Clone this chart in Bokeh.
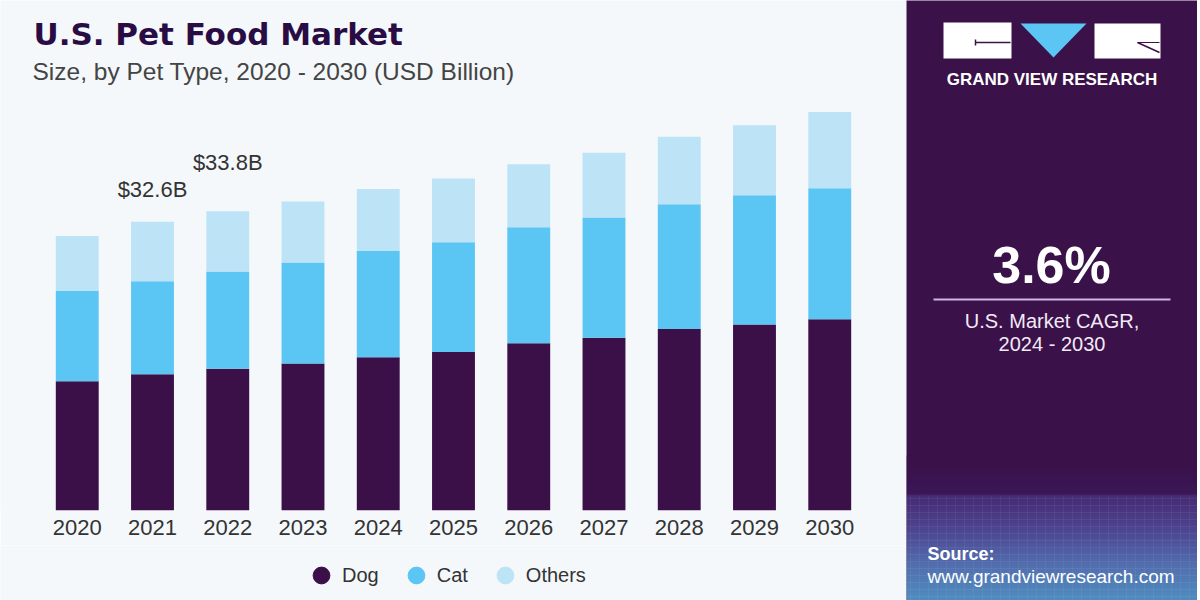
import numpy as np
from bokeh.plotting import figure
from bokeh.models import (ColumnDataSource, FactorRange, Range1d, Legend, LegendItem, Label, LabelSet)
from bokeh.core.properties import value
from bokeh.layouts import row, column
from bokeh.embed import file_html
from bokeh.resources import INLINE

# ---------------- data ----------------
years = ["2020", "2021", "2022", "2023", "2024", "2025", "2026", "2027", "2028", "2029", "2030"]
dog = [14.6, 15.4, 16.0, 16.6, 17.3, 17.9, 18.9, 19.5, 20.5, 21.0, 21.6]
cat = [10.2, 10.5, 11.0, 11.4, 12.0, 12.4, 13.1, 13.6, 14.1, 14.6, 14.8]
others = [6.2, 6.7, 6.8, 6.9, 7.0, 7.2, 7.1, 7.3, 7.6, 7.9, 8.6]
series = ["Dog", "Cat", "Others"]
colors = ["#3b1049", "#5bc6f3", "#bde3f7"]
label_years = ["2021", "2022"]
label_texts = ["$32.6B", "$33.8B"]
cagr_text = "3.6%"
cagr_caption = ["U.S. Market CAGR,", "2024 - 2030"]

BG = "#f4f8fb"
PURPLE = "#3a1148"
FONT = "Liberation Sans"

src = ColumnDataSource(dict(year=years, Dog=dog, Cat=cat, Others=others))

# ---------------- main chart ----------------
p = figure(width=906, height=545, output_backend="svg", toolbar_location=None,
           x_range=FactorRange(factors=years, range_padding=0.52, range_padding_units="absolute"),
           y_range=Range1d(0, 57.6),
           min_border_left=0, min_border_right=0, min_border_top=0, min_border_bottom=35)
p.frame_align = False
p.background_fill_color = BG
p.border_fill_color = BG
p.outline_line_color = None
p.xgrid.visible = False
p.ygrid.visible = False
p.yaxis.visible = False

p.vbar_stack(series, x="year", width=0.57, color=colors, source=src, line_width=0)

xa = p.xaxis[0]
xa.axis_line_color = None
xa.major_tick_line_color = None
xa.minor_tick_line_color = None
xa.major_label_text_font = FONT
xa.major_label_text_font_size = "22px"
xa.major_label_text_color = "#333333"
xa.major_label_standoff = 3

# value labels
totals = {y: d + c + o for y, d, c, o in zip(years, dog, cat, others)}
for yr, txt, off in zip(label_years, label_texts, [25, 41]):
    ls_src = ColumnDataSource(dict(x=[yr], y=[totals[yr]], t=[txt]))
    p.add_layout(LabelSet(x="x", y="y", text="t", source=ls_src, y_offset=off, text_align="center",
                          text_baseline="alphabetic", text_font=value(FONT),
                          text_font_size=value("22px"), text_color="#333333"))

# titles (screen units relative to frame; y = vertical centre of capitals)
p.add_layout(Label(x=33, y=477, x_units="screen", y_units="screen", text="U.S. Pet Food Market",
                   text_font="DejaVu Sans", text_font_style="bold", text_font_size="31px",
                   text_color="#2a0c44", text_baseline="alphabetic"))
p.add_layout(Label(x=32, y=439, x_units="screen", y_units="screen",
                   text="Size, by Pet Type, 2020 - 2030 (USD Billion)",
                   text_font=FONT, text_font_size="24.5px", text_color="#444444",
                   text_baseline="alphabetic"))

# ---------------- legend strip ----------------
lg = figure(width=906, height=55, output_backend="svg", toolbar_location=None,
            x_range=FactorRange(factors=years), y_range=Range1d(0, 1), min_border=0)
lg.frame_align = False
lg.axis.visible = False
lg.grid.visible = False
lg.outline_line_color = None
lg.background_fill_color = BG
lg.border_fill_color = BG
items = []
for name, col in zip(series, colors):
    proxy = ColumnDataSource(dict(x=years, y=np.full(len(years), np.nan)))
    r = lg.scatter(x="x", y="y", source=proxy, marker="circle", fill_color=col, line_color=col, size=16)
    items.append(LegendItem(label=name, renderers=[r]))
legend = Legend(items=items, orientation="horizontal", location=(300, 4),
                glyph_width=42, glyph_height=42, label_standoff=-4, spacing=16,
                padding=0, margin=0, border_line_color=None, background_fill_alpha=0,
                label_text_font=FONT, label_text_font_size="20px", label_text_color="#333333")
lg.add_layout(legend, "center")

# ---------------- right panel ----------------
q = figure(width=291, height=600, output_backend="svg", toolbar_location=None,
           x_range=Range1d(0, 291), y_range=Range1d(600, 0), min_border=0)
q.frame_align = False
q.axis.visible = False
q.grid.visible = False
q.outline_line_color = None
q.background_fill_color = PURPLE
q.border_fill_color = PURPLE

# bottom gradient
stops_y = [455, 494, 495, 530, 565, 600]
stops_c = ["#3a1148", "#3c1a5c", "#4b3382", "#5458a8", "#5a8dd0", "#58b6e6"]
def hex2rgb(h):
    return np.array([int(h[i:i + 2], 16) for i in (1, 3, 5)], dtype=float)
rgbs = np.array([hex2rgb(c) for c in stops_c])
ys = np.arange(455, 600, 1.0)
cols = []
for yv in ys:
    rgb = [np.interp(yv + 0.5, stops_y, rgbs[:, k]) for k in range(3)]
    cols.append("#%02x%02x%02x" % tuple(int(round(v)) for v in rgb))
q.quad(left=0, right=291, top=ys, bottom=ys + 1.05, fill_color=cols, line_color=None)
# faint grid texture
for yy in np.arange(498, 600, 7):
    q.line([0, 291], [yy, yy], line_color="#ffffff", line_alpha=0.06, line_width=1)
for xx in np.arange(4, 291, 9):
    q.line([xx, xx], [495, 600], line_color="#ffffff", line_alpha=0.05, line_width=1)

# logo
q.quad(left=[37, 188], right=[105, 254], top=[22, 23], bottom=[58, 58], fill_color="white", line_color=None)
q.patch([114, 180, 147], [23, 23, 57], fill_color="#5bc6f3", line_color=None)
q.line([69, 104], [42, 42], line_color="#3a1148", line_width=1.5)
q.line([69, 69], [39, 45], line_color="#3a1148", line_width=1.5)
q.line([231, 253], [42, 52], line_color="#3a1148", line_width=1.5)
q.line([231, 253], [42, 42], line_color="#3a1148", line_width=1.2)

def plabel(x, y, txt, size, bold=False, align="center", color="#ffffff"):
    q.add_layout(Label(x=x, y=y, text=txt, text_align=align, text_baseline="alphabetic",
                       text_font=FONT, text_font_style="bold" if bold else "normal",
                       text_font_size=size, text_color=color))

plabel(145.5, 78.5, "GRAND VIEW RESEARCH", "17px", bold=True)
plabel(145, 264, cagr_text, "52px", bold=True)
q.line([27, 264], [299, 299], line_color="#cdb6e6", line_width=2)
for txt, yc in zip(cagr_caption, [320.5, 343]):
    plabel(145.5, yc, txt, "20px", color="#f2eaf7")
plabel(21, 553.5, "Source:", "18px", bold=True, align="left")
plabel(21, 576, "www.grandviewresearch.com", "19px", align="left")

layout = row(column(p, lg), q)
open("out.html", "w").write(file_html(layout, INLINE))
